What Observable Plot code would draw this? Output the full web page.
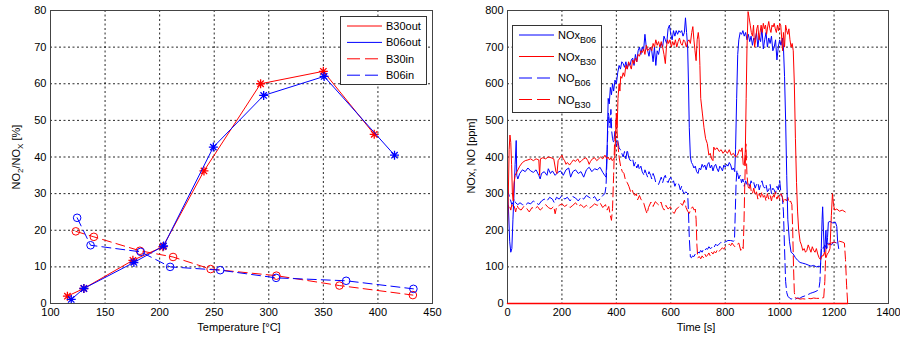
<!DOCTYPE html>
<html><head><meta charset="utf-8">
<script src="https://cdn.jsdelivr.net/npm/d3@7"></script>
<script src="https://cdn.jsdelivr.net/npm/@observablehq/plot@0.6"></script>
<style>
body{margin:0;background:#fff;font-family:Arial,"Liberation Sans",sans-serif;}
#wrap{position:relative;width:900px;height:338px;overflow:hidden;background:#fff;}
.panel{position:absolute;top:0;overflow:visible;}
.lab{position:absolute;font-size:11px;color:#000;white-space:nowrap;line-height:1;}
.rot{transform:translate(-50%,-50%) rotate(-90deg);}
.hc{transform:translate(-50%,-50%);}
sub{font-size:8px;vertical-align:-3px;line-height:0;}
.leg{position:absolute;}
</style></head>
<body><div id="wrap"></div>
<script>
// ---------- Left panel data: [temperature °C, NO2/NOx %] ----------
const xTicksL = [100,150,200,250,300,350,400,450];
const yTicksL = [0,10,20,30,40,50,60,70,80];
const B30out = [[115.5,2.0],[130.5,4.1],[175.5,11.8],[203,15.5],[240.6,36.2],[292.5,60.0],[350,63.4],[396.6,46.2]];
const B06out = [[119,1.1],[130.6,4.1],[176.4,11.2],[203.6,15.7],[249.2,42.7],[295.3,56.8],[350.7,62.0],[415.2,40.5]];
const B30in  = [[123.2,19.7],[139.7,18.2],[181.9,14.4],[212.3,12.7],[246.7,9.4],[307,7.6],[364.7,4.9],[432,2.3]];
const B06in  = [[124.4,23.4],[136.7,15.9],[182.7,14.1],[209.6,10.0],[255.5,9.1],[306.7,7.0],[370.9,6.2],[432.5,4.0]];
const legendL = ["B30out","B06out","B30in","B06in"];

// ---------- Right panel data: [time s, ppm] ----------
const xTicksR = [0,200,400,600,800,1000,1200,1400];
const yTicksR = [0,100,200,300,400,500,600,700,800];
const noxB06 = [[0,310],[4,250],[8,170],[12,140],[16,150],[20,230],[24,300],[28,380],[32,445],[34,350],[38,340],[45,355],[55,365],[65,360],[75,370],[85,362],[95,358],[105,365],[115,350],[120,340],[125,355],[135,360],[145,350],[150,368],[158,355],[165,362],[175,350],[185,358],[195,362],[205,350],[215,365],[225,370],[232,345],[240,360],[250,365],[260,355],[270,360],[280,345],[290,365],[300,372],[310,360],[320,368],[330,365],[340,372],[350,358],[357,350],[362,345],[366,420],[370,560],[374,545],[378,590],[382,570],[386,600],[390,580],[395,610],[400,600],[405,630],[410,650],[415,640],[420,660],[425,655],[430,645],[435,660],[440,640],[445,655],[450,650],[455,665],[460,670],[465,650],[470,680],[475,660],[480,690],[485,700],[490,680],[495,700],[500,690],[505,735],[510,700],[515,690],[520,675],[525,700],[530,690],[535,660],[540,700],[545,650],[550,690],[555,680],[560,700],[565,710],[570,700],[575,730],[580,720],[585,710],[590,750],[595,760],[600,735],[605,720],[610,745],[615,730],[620,745],[625,735],[630,745],[635,740],[640,745],[645,730],[650,740],[654,780],[658,740],[662,700],[665,600],[668,480],[672,400],[676,385],[680,380],[685,370],[690,375],[695,360],[700,355],[705,370],[710,365],[715,380],[720,372],[725,378],[730,365],[735,380],[740,385],[745,370],[750,378],[755,362],[760,375],[765,380],[770,368],[775,360],[780,375],[785,370],[790,362],[795,378],[800,372],[805,380],[810,375],[815,385],[820,378],[825,365],[830,370],[835,360],[838,420],[842,560],[846,680],[850,720],[855,740],[860,735],[865,745],[870,730],[875,740],[880,720],[885,735],[890,715],[895,730],[900,705],[905,725],[910,720],[915,740],[920,700],[925,730],[930,715],[935,750],[940,695],[945,720],[950,740],[955,700],[960,725],[965,710],[970,730],[975,690],[980,700],[985,720],[990,665],[995,700],[1000,720],[1005,705],[1010,725],[1014,700],[1018,620],[1022,500],[1026,350],[1030,230],[1036,170],[1042,140],[1050,135],[1058,125],[1066,118],[1075,112],[1085,110],[1095,108],[1105,105],[1115,102],[1125,104],[1135,100],[1145,102],[1150,100],[1153,150],[1156,230],[1158,264],[1161,200],[1164,140],[1167,160],[1170,200],[1173,150],[1176,180],[1179,222],[1185,224],[1195,220],[1205,222],[1210,210],[1213,170],[1217,150]];
const noxB30 = [[0,200],[3,300],[6,420],[9,460],[12,440],[15,380],[18,300],[21,280],[24,330],[28,350],[35,360],[45,375],[55,385],[65,390],[75,392],[85,395],[95,390],[105,395],[115,392],[118,350],[121,395],[130,398],[140,395],[150,400],[160,398],[170,395],[178,360],[182,355],[186,390],[195,400],[200,405],[205,395],[210,390],[215,380],[220,385],[228,378],[235,385],[242,392],[250,388],[258,395],[265,385],[272,390],[280,395],[288,398],[295,390],[300,380],[305,388],[312,395],[320,398],[328,390],[335,395],[342,400],[350,395],[358,405],[365,395],[370,400],[375,392],[380,398],[385,390],[390,395],[394,400],[397,450],[400,520],[403,480],[406,560],[410,600],[413,580],[416,620],[420,615],[425,630],[430,620],[435,650],[440,640],[445,660],[450,650],[455,640],[460,665],[465,655],[470,670],[475,660],[480,680],[485,675],[490,690],[495,685],[500,695],[505,680],[510,705],[515,690],[520,695],[525,700],[530,690],[535,710],[540,700],[545,720],[550,705],[555,715],[560,700],[565,715],[570,700],[575,680],[580,655],[584,700],[588,720],[592,710],[597,720],[602,700],[607,715],[612,705],[617,720],[622,700],[627,715],[632,725],[637,710],[642,705],[647,720],[652,715],[657,700],[662,715],[667,720],[672,710],[677,740],[681,756],[685,720],[689,690],[693,663],[697,720],[701,740],[704,720],[707,650],[710,560],[716,520],[722,480],[728,450],[734,437],[740,405],[745,410],[750,395],[755,390],[758,427],[762,420],[770,425],[778,415],[785,420],[792,410],[800,418],[808,410],[815,420],[822,405],[830,410],[838,400],[845,405],[852,420],[858,415],[862,425],[866,380],[870,377],[874,420],[877,560],[880,700],[884,797],[888,780],[892,760],[896,740],[900,730],[904,760],[908,700],[912,720],[916,750],[920,760],[924,720],[928,740],[932,760],[936,740],[940,765],[944,750],[948,760],[952,735],[956,755],[960,770],[964,750],[968,740],[972,760],[976,755],[980,765],[984,750],[988,740],[992,760],[996,745],[1000,765],[1004,760],[1008,720],[1011,690],[1014,740],[1018,700],[1022,760],[1026,745],[1030,735],[1034,750],[1038,720],[1042,700],[1046,710],[1050,690],[1054,600],[1058,450],[1062,330],[1066,250],[1070,200],[1075,170],[1080,160],[1085,145],[1090,150],[1095,140],[1100,145],[1105,160],[1110,150],[1115,140],[1120,155],[1125,145],[1130,140],[1135,150],[1140,135],[1145,125],[1150,120],[1155,130],[1160,130],[1165,140],[1170,125],[1175,135],[1180,140],[1185,150],[1190,240],[1194,300],[1198,270],[1202,255],[1210,258],[1220,252],[1230,255],[1241,250]];
const noB06 = [[0,320],[4,300],[8,290],[12,280],[16,270],[20,275],[25,285],[30,275],[38,270],[46,275],[55,270],[65,268],[75,275],[85,272],[95,280],[105,275],[115,270],[125,280],[135,285],[145,280],[155,290],[165,285],[172,275],[180,290],[190,285],[200,295],[210,285],[220,290],[230,280],[240,292],[250,288],[260,280],[270,290],[280,285],[290,295],[300,290],[310,285],[320,292],[330,280],[340,285],[350,295],[358,300],[362,320],[365,380],[368,460],[371,520],[374,500],[377,480],[380,530],[383,470],[386,450],[390,440],[395,470],[400,430],[405,445],[410,425],[415,420],[420,410],[425,400],[430,415],[435,395],[440,420],[445,400],[450,391],[455,390],[460,395],[465,375],[470,385],[475,370],[480,380],[485,365],[490,375],[495,360],[502,350],[505,365],[510,355],[515,345],[520,360],[526,350],[530,340],[535,355],[540,345],[545,330],[551,327],[555,325],[560,335],[565,345],[570,330],[576,345],[580,350],[585,335],[590,330],[595,340],[600,345],[605,330],[610,335],[615,320],[620,330],[625,327],[630,325],[635,310],[640,320],[645,305],[650,300],[655,305],[662,300],[665,250],[668,180],[672,127],[676,125],[680,130],[685,128],[690,135],[695,132],[700,140],[705,138],[710,145],[715,140],[720,148],[725,145],[730,150],[735,148],[740,155],[745,150],[750,152],[755,158],[760,155],[765,162],[770,158],[775,160],[784,167],[790,165],[800,168],[810,172],[820,172],[830,170],[834,172],[837,250],[840,330],[843,364],[850,340],[855,350],[860,330],[865,340],[870,320],[875,335],[880,325],[885,330],[890,320],[895,335],[900,325],[905,330],[910,315],[915,325],[920,330],[925,310],[930,325],[935,335],[940,320],[945,315],[950,325],[955,305],[960,310],[965,325],[970,300],[975,315],[980,310],[985,300],[990,320],[995,310],[1000,336],[1005,300],[1010,290],[1014,250],[1018,150],[1022,60],[1026,30],[1030,20],[1036,15],[1042,12],[1050,14],[1058,12],[1066,15],[1074,14],[1082,18],[1090,20],[1098,22],[1106,25],[1114,28],[1122,30],[1130,32],[1138,35],[1144,38],[1148,60],[1151,120],[1154,154],[1160,150],[1166,160],[1172,150],[1180,165],[1190,160],[1200,168],[1210,165]];
const noB30 = [[0,240],[4,270],[8,265],[12,255],[16,270],[20,260],[25,265],[30,250],[35,268],[40,260],[50,255],[60,265],[70,260],[80,250],[90,262],[100,258],[110,265],[120,255],[130,262],[140,270],[150,262],[160,258],[170,265],[175,245],[180,262],[190,268],[200,272],[210,265],[220,270],[230,262],[240,268],[250,275],[260,265],[270,270],[280,262],[290,268],[300,260],[310,265],[320,272],[330,268],[340,275],[350,262],[360,270],[366,255],[372,265],[378,240],[382,227],[386,260],[390,350],[393,430],[396,460],[399,500],[402,480],[405,440],[410,400],[416,373],[422,360],[428,355],[434,335],[440,330],[446,320],[453,304],[458,310],[463,300],[468,295],[473,300],[478,283],[485,295],[490,285],[495,280],[501,273],[508,255],[513,245],[518,262],[527,277],[535,265],[543,278],[550,273],[557,268],[564,277],[570,262],[576,255],[582,268],[590,258],[599,264],[606,250],[613,246],[620,258],[628,262],[637,273],[643,268],[650,282],[656,262],[662,252],[668,246],[674,258],[680,264],[686,255],[690,258],[693,230],[696,160],[699,125],[705,128],[710,122],[715,130],[720,125],[725,135],[730,128],[735,132],[740,138],[745,130],[750,140],[755,135],[760,142],[765,138],[770,145],[775,140],[784,148],[790,152],[795,148],[800,155],[805,158],[810,160],[815,162],[820,158],[825,165],[830,160],[835,155],[840,160],[845,162],[850,165],[857,145],[862,155],[866,150],[869,220],[872,330],[876,436],[880,350],[884,320],[888,310],[892,325],[896,305],[900,300],[905,315],[910,295],[915,305],[920,285],[925,300],[930,290],[935,305],[940,290],[945,295],[950,280],[955,300],[960,285],[965,295],[970,280],[975,300],[980,290],[985,305],[990,285],[995,295],[1000,285],[1005,300],[1010,290],[1015,275],[1020,285],[1025,280],[1030,290],[1035,275],[1040,280],[1045,270],[1048,200],[1051,100],[1054,30],[1058,15],[1066,14],[1075,12],[1085,13],[1095,12],[1105,14],[1115,13],[1125,15],[1135,14],[1145,14],[1155,15],[1162,16],[1166,60],[1170,150],[1174,165],[1180,160],[1190,165],[1200,168],[1210,165],[1220,170],[1230,168],[1238,165],[1242,120],[1246,50],[1250,0]];
const zeroB30 = [[0,0],[1250,0]];
const legendR = [["NOx","B06"],["NOx","B30"],["NO","B06"],["NO","B30"]];

const RED = "#ff0000", BLUE = "#0000ff";
const FONT = "Arial, 'Liberation Sans', sans-serif";
const fmt = d => String(d);

// MATLAB-style '*' marker (plus + cross)
const star8 = {draw(ctx, size){
  const r = Math.sqrt(size/Math.PI), d = r*Math.SQRT1_2;
  ctx.moveTo(-r,0);ctx.lineTo(r,0);ctx.moveTo(0,-r);ctx.lineTo(0,r);
  ctx.moveTo(-d,-d);ctx.lineTo(d,d);ctx.moveTo(-d,d);ctx.lineTo(d,-d);
}};

const X = d => d[0], Y = d => d[1];
const wrap = document.getElementById("wrap");

function grid(xt, yt){
  return [
    Plot.gridX(xt, {stroke:"#000", strokeOpacity:0.85, strokeDasharray:"2,2.5", strokeWidth:1}),
    Plot.gridY(yt, {stroke:"#000", strokeOpacity:0.85, strokeDasharray:"2,2.5", strokeWidth:1})
  ];
}

// ---------- Left plot ----------
const left = Plot.plot({
  width:450, height:338, marginLeft:50, marginRight:18, marginTop:10, marginBottom:35,
  style:{fontFamily:FONT, fontSize:"11px", color:"#000", background:"transparent", overflow:"visible"},
  x:{domain:[100,450]}, y:{domain:[0,80]},
  marks:[
    ...grid(xTicksL, yTicksL),
    Plot.axisX({ticks:xTicksL, tickFormat:fmt, tickSize:0, tickPadding:5, label:null, fontSize:11}),
    Plot.axisY({ticks:yTicksL, tickFormat:fmt, tickSize:0, tickPadding:4, label:null, fontSize:11}),
    Plot.line(B30out, {x:X, y:Y, stroke:RED, strokeWidth:1}),
    Plot.dot(B30out, {x:X, y:Y, stroke:RED, fill:"none", symbol:star8, r:4.5, strokeWidth:1.3}),
    Plot.line(B06out, {x:X, y:Y, stroke:BLUE, strokeWidth:1}),
    Plot.dot(B06out, {x:X, y:Y, stroke:BLUE, fill:"none", symbol:star8, r:4.5, strokeWidth:1.3}),
    Plot.line(B30in, {x:X, y:Y, stroke:RED, strokeWidth:1, strokeDasharray:"9,5"}),
    Plot.dot(B30in, {x:X, y:Y, stroke:RED, fill:"none", r:3.8, strokeWidth:1}),
    Plot.line(B06in, {x:X, y:Y, stroke:BLUE, strokeWidth:1, strokeDasharray:"9,5"}),
    Plot.dot(B06in, {x:X, y:Y, stroke:BLUE, fill:"none", r:3.8, strokeWidth:1}),
    Plot.frame({stroke:"#444", strokeWidth:1})
  ]
});
left.classList.add("panel"); left.style.left = "0px";
wrap.appendChild(left);

// ---------- Right plot ----------
const right = Plot.plot({
  width:450, height:338, marginLeft:57, marginRight:12, marginTop:10, marginBottom:35,
  style:{fontFamily:FONT, fontSize:"11px", color:"#000", background:"transparent", overflow:"visible"},
  x:{domain:[0,1400]}, y:{domain:[0,800]},
  marks:[
    ...grid(xTicksR, yTicksR),
    Plot.axisX({ticks:xTicksR, tickFormat:fmt, tickSize:0, tickPadding:5, label:null, fontSize:11}),
    Plot.axisY({ticks:yTicksR, tickFormat:fmt, tickSize:0, tickPadding:4, label:null, fontSize:11}),
    Plot.line(noB06, {x:X, y:Y, stroke:BLUE, strokeWidth:1, strokeDasharray:"10,4"}),
    Plot.line(noB30, {x:X, y:Y, stroke:RED, strokeWidth:1, strokeDasharray:"10,4"}),
    Plot.line(noxB06, {x:X, y:Y, stroke:BLUE, strokeWidth:1}),
    Plot.line(noxB30, {x:X, y:Y, stroke:RED, strokeWidth:1}),
    Plot.frame({stroke:"#444", strokeWidth:1}),
    Plot.line(zeroB30, {x:X, y:Y, stroke:RED, strokeWidth:1.5})
  ]
});
right.classList.add("panel"); right.style.left = "450px";
wrap.appendChild(right);

// ---------- Axis labels ----------
function label(html, x, y, cls){
  const d = document.createElement("div");
  d.className = "lab " + cls; d.innerHTML = html;
  d.style.left = x + "px"; d.style.top = y + "px";
  wrap.appendChild(d);
}
label("Temperature [°C]", 239, 327, "hc");
label("Time [s]", 696, 327, "hc");
label("NO<sub>2</sub>/NO<sub>X</sub> [%]", 16, 157, "rot");
label("NOx, NO [ppm]", 471, 156, "rot");

// ---------- Legends ----------
function legend(x, y, w, h, dy0, step, entries){
  const svg = d3.create("svg").attr("class","leg").attr("width", w).attr("height", h)
    .style("left", x+"px").style("top", y+"px");
  svg.append("rect").attr("x",0.5).attr("y",0.5).attr("width",w-1).attr("height",h-1)
    .attr("fill","#fff").attr("stroke","#333").attr("stroke-width",1);
  entries.forEach((e,i) => {
    const yy = dy0 + i*step;
    svg.append("line").attr("x1",7).attr("x2",42).attr("y1",yy).attr("y2",yy)
      .attr("stroke", e.color).attr("stroke-width",1)
      .attr("stroke-dasharray", e.dash ? "13,5" : null);
    const t = svg.append("text").attr("x",46).attr("y",yy+4)
      .attr("font-family",FONT).attr("font-size",11).attr("fill","#000");
    t.append("tspan").text(e.main);
    if (e.sub) t.append("tspan").attr("dy",4).attr("font-size",9).text(e.sub);
  });
  wrap.appendChild(svg.node());
}
legend(340, 16, 87, 69, 10, 16.4, legendL.map((n,i) => ({main:n, color: i%2===0 ? RED : BLUE, dash: i>=2})));
legend(512, 25, 90, 88, 10, 21.5, legendR.map((n,i) => ({main:n[0], sub:n[1], color: i%2===0 ? BLUE : RED, dash: i>=2})));
</script>
</body></html>
